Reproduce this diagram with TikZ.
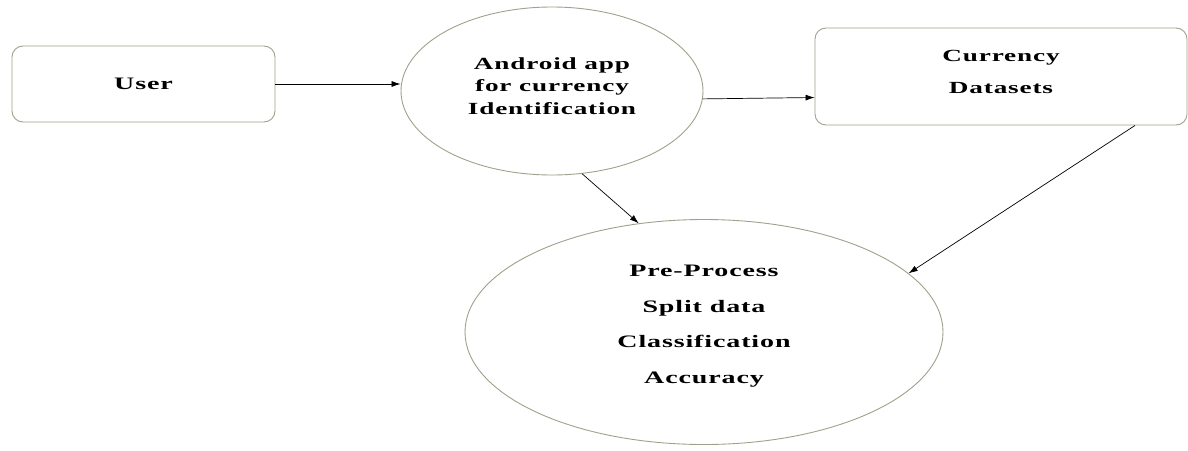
\documentclass[tikz,border=0pt]{standalone}
\usepackage{fontspec}
\setmainfont{Liberation Serif}[FakeStretch=1.6,LetterSpace=5]
\usetikzlibrary{shapes.geometric,arrows.meta}
\definecolor{outl}{RGB}{160,160,140}
\tikzset{
  boxnode/.style={draw=outl, line width=0.9pt, rounded corners=11pt, inner sep=0pt, align=center},
  ellnode/.style={draw=outl, line width=0.9pt, ellipse, inner sep=0pt, align=center},
  conn/.style={draw=black, line width=0.7pt, -{Latex[length=9pt,width=6pt]}}
}
\begin{document}
\begin{tikzpicture}[x=1pt,y=-1pt]
\useasboundingbox (0,0) rectangle (1188,450);
\node[boxnode, minimum width=263, minimum height=76, font={\bfseries\fontsize{17.5}{20}\selectfont}] (user) at (143.5,84) {User};
\node[ellnode, minimum width=302, minimum height=168, font={\bfseries\fontsize{17}{22.5}\selectfont}] (android) at (552,91)
  {Android app\\ for currency\\ Identification\\[-12.5pt]\mbox{}};
\node[boxnode, minimum width=372, minimum height=97, font={\bfseries\fontsize{17}{32}\selectfont}] (cur) at (1001,76.5)
  {Currency\\ Datasets\\[-22pt]\mbox{}};
\node[ellnode, minimum width=478, minimum height=225, font={\bfseries\fontsize{17.5}{35.5}\selectfont}] (proc) at (704,332)
  {Pre-Process\\ Split data\\ Classification\\ Accuracy\\[-20pt]\mbox{}};
\draw[conn] (user.east) -- (user.east -| android.west);
\draw[conn] (android.-3) -- ([yshift=-21pt]cur.west);
\draw[conn] (android.-70) -- (proc.121.7);
\draw[conn] ([xshift=134pt]cur.south) -- (proc.16);
\end{tikzpicture}
\end{document}
